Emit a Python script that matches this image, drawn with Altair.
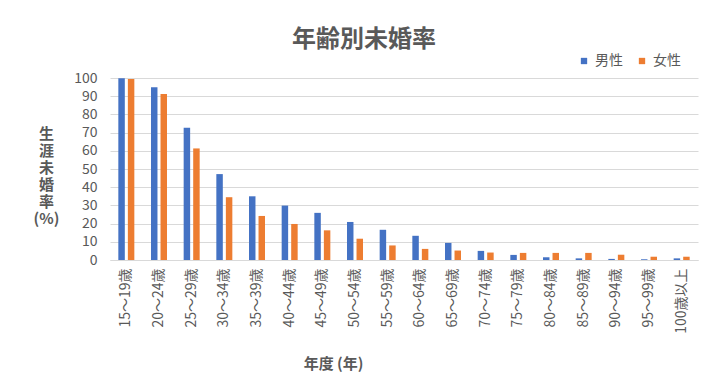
import altair as alt
import pandas as pd

categories = ["15～19歳", "20～24歳", "25～29歳", "30～34歳", "35～39歳", "40～44歳",
              "45～49歳", "50～54歳", "55～59歳", "60～64歳", "65～69歳", "70～74歳",
              "75～79歳", "80～84歳", "85～89歳", "90～94歳", "95～99歳", "100歳以上"]
male = [99.9, 94.9, 72.7, 47.2, 35.0, 29.9, 25.9, 20.9, 16.6, 13.3, 9.4, 5.0,
        2.8, 1.5, 0.9, 0.6, 0.4, 0.9]
female = [99.5, 91.2, 61.3, 34.5, 24.2, 19.8, 16.3, 11.7, 8.0, 6.1, 5.2, 4.1,
          3.9, 3.9, 3.9, 2.9, 1.8, 1.8]
series = ["男性", "女性"]
colors = ["#4472C4", "#ED7D31"]

rows = []
for c, m, f in zip(categories, male, female):
    rows.append({"age": c, "sex": series[0], "rate": m})
    rows.append({"age": c, "sex": series[1], "rate": f})
df = pd.DataFrame(rows)

FONT = "Noto Sans CJK JP"
GRAY = "#595959"

chart = alt.Chart(df).mark_bar().encode(
    x=alt.X("age:N", sort=categories,
            scale=alt.Scale(paddingInner=0.51, paddingOuter=0.255),
            axis=alt.Axis(title="年度 (年)", labelAngle=270, labelFontSize=14,
                          labelColor=GRAY, labelFont=FONT, labelPadding=8,
                          ticks=False, domainColor="#d9d9d9",
                          titleFont=FONT, titleFontSize=15, titleFontWeight="bold",
                          titleColor=GRAY, titleX=223, titleY=103,
                          titleBaseline="middle", titleAnchor="start", titleAlign="center")),
    xOffset=alt.XOffset("sex:N", sort=series, scale=alt.Scale(paddingInner=0.32)),
    y=alt.Y("rate:Q", scale=alt.Scale(domain=[0, 100], nice=False),
            axis=alt.Axis(values=list(range(0, 101, 10)), title=["生", "涯", "未", "婚", "率", "(%)"],
                          titleAngle=0, titleFont=FONT, titleFontSize=15, titleFontWeight="bold",
                          titleColor=GRAY, titleLineHeight=17, titleX=-64, titleY=48,
                          titleAlign="center", titleBaseline="top",
                          labelFontSize=14, labelColor=GRAY, labelFont=FONT, labelPadding=13,
                          domain=False, ticks=False, gridColor="#d9d9d9")),
    color=alt.Color("sex:N", sort=series, scale=alt.Scale(domain=series, range=colors),
                    legend=alt.Legend(title=None, orient="none", direction="horizontal",
                                      legendX=467, legendY=-24, symbolType="square",
                                      symbolSize=40, labelFontSize=14, labelFont=FONT,
                                      labelColor=GRAY, labelOffset=4, columnPadding=12,
                                      symbolStrokeWidth=0)),
).properties(
    width=588, height=182,
    title=alt.TitleParams("年齢別未婚率", font=FONT, fontSize=24, fontWeight="bold",
                          color=GRAY, anchor="middle", dx=-40, dy=26, offset=28),
    autosize=alt.AutoSizeParams(type="none"),
    padding={"left": 110, "top": 78, "right": 22, "bottom": 128},
).configure_view(stroke=None)

chart.save("out.html", embed_options={"renderer": "svg", "actions": False})
